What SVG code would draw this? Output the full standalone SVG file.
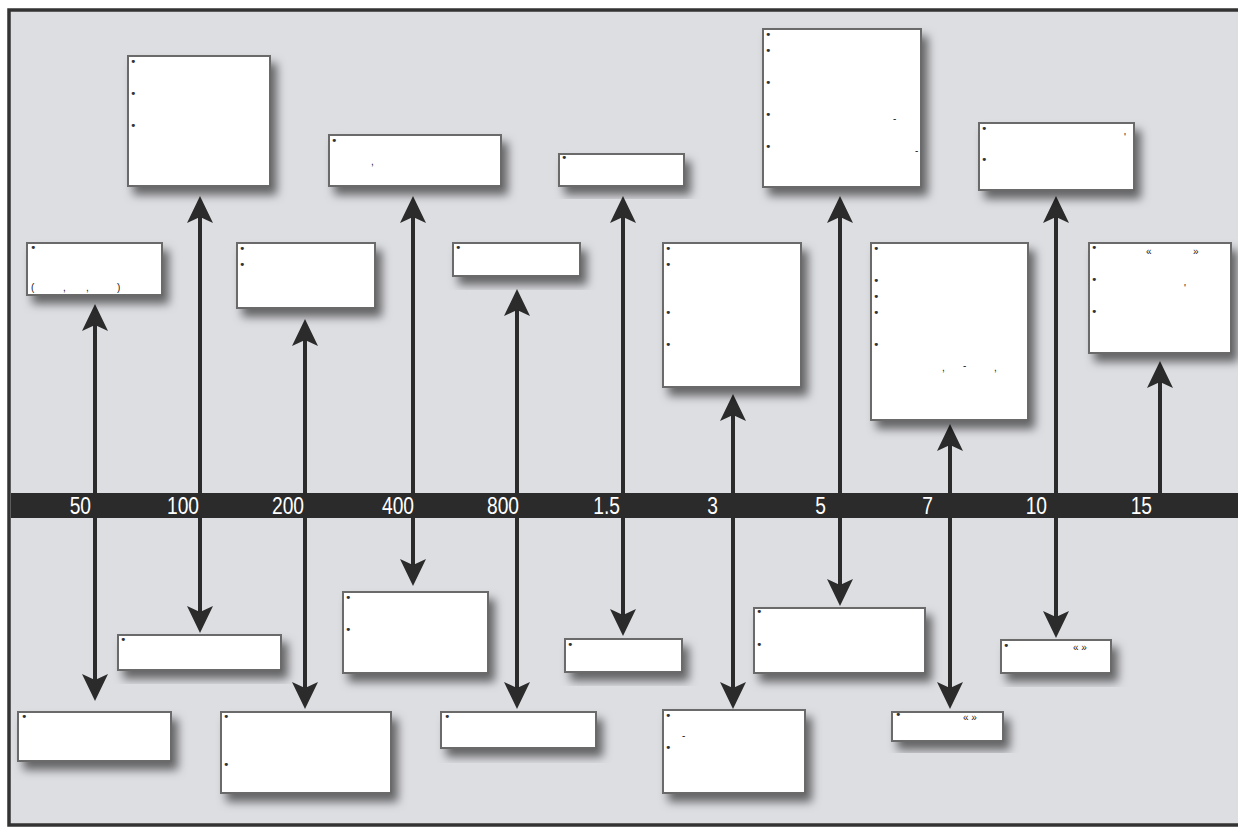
<svg xmlns="http://www.w3.org/2000/svg" width="1238" height="828" viewBox="0 0 1238 828">
<style>
.box{fill:#fff;stroke:#6a6a6a;stroke-width:2;filter:url(#sh)}
.b{font-family:"DejaVu Sans",sans-serif;font-size:11px;fill:#333}
.p{font-family:"Liberation Sans",sans-serif;font-size:10px;fill:#222}
.num{font-family:"Liberation Sans",Arial,sans-serif;font-size:24px;fill:#fff;text-anchor:end}
.arr{stroke:#2b2b2b;stroke-width:4;fill:none;marker-end:url(#ah)}
.dbl{marker-start:url(#ah)}
</style>
<defs>
<filter id="sh" x="-20%" y="-20%" width="150%" height="160%">
<feDropShadow dx="6" dy="8" stdDeviation="5" flood-color="#000" flood-opacity="0.55"/>
</filter>
<marker id="ah" markerUnits="userSpaceOnUse" viewBox="0 -14 28 28" refX="8" refY="0" markerWidth="28" markerHeight="28" orient="auto-start-reverse">
<path d="M27,0 L0,-13 L6,0 L0,13 Z" fill="#2b2b2b"/>
</marker>
</defs>
<rect x="0" y="0" width="1238" height="828" fill="#fff"/>
<rect x="9" y="10" width="1240" height="815" fill="#dddee2" stroke="#333" stroke-width="3.5"/>
<rect x="11" y="493" width="1227" height="25" fill="#2b2b2b"/>
<g id="connectors">
<line class="arr dbl" x1="95" y1="323" x2="95" y2="682"/>
<line class="arr dbl" x1="200" y1="215" x2="200" y2="614"/>
<line class="arr dbl" x1="305" y1="338" x2="305" y2="690"/>
<line class="arr dbl" x1="413" y1="215" x2="413" y2="567"/>
<line class="arr dbl" x1="517" y1="308" x2="517" y2="690"/>
<line class="arr dbl" x1="623" y1="215" x2="623" y2="617"/>
<line class="arr dbl" x1="733" y1="413" x2="733" y2="690"/>
<line class="arr dbl" x1="840" y1="215" x2="840" y2="587"/>
<line class="arr dbl" x1="950" y1="443" x2="950" y2="690"/>
<line class="arr dbl" x1="1056" y1="215" x2="1056" y2="619"/>
<line class="arr" x1="1160" y1="493" x2="1160" y2="380"/>
</g>
<g id="labels">
<text class="num" transform="translate(91,514) scale(0.8,1)">50</text>
<text class="num" transform="translate(199,514) scale(0.8,1)">100</text>
<text class="num" transform="translate(304,514) scale(0.8,1)">200</text>
<text class="num" transform="translate(414,514) scale(0.8,1)">400</text>
<text class="num" transform="translate(519,514) scale(0.8,1)">800</text>
<text class="num" transform="translate(620,514) scale(0.8,1)">1.5</text>
<text class="num" transform="translate(718,514) scale(0.8,1)">3</text>
<text class="num" transform="translate(826,514) scale(0.8,1)">5</text>
<text class="num" transform="translate(933,514) scale(0.8,1)">7</text>
<text class="num" transform="translate(1047,514) scale(0.8,1)">10</text>
<text class="num" transform="translate(1152,514) scale(0.8,1)">15</text>
</g>
<g id="n1"><rect class="box" x="128" y="56" width="142" height="130"/>
<text class="b" x="130" y="65">•</text><text class="b" x="130" y="97">•</text><text class="b" x="130" y="129">•</text></g>
<g id="n2"><rect class="box" x="27" y="243" width="135" height="52"/>
<text class="b" x="30" y="251">•</text>
<text class="p" x="31" y="291">(</text><text class="p" x="63" y="291">,</text><text class="p" x="86" y="291">,</text><text class="p" x="117" y="291">)</text></g>
<g id="n3"><rect class="box" x="237" y="243" width="138" height="65"/>
<text class="b" x="239" y="252">•</text><text class="b" x="239" y="268">•</text></g>
<g id="n4"><rect class="box" x="329" y="135" width="172" height="51"/>
<text class="b" x="331" y="144">•</text><text class="p" x="371" y="165">,</text></g>
<g id="n5"><rect class="box" x="453" y="243" width="127" height="33"/>
<text class="b" x="455" y="251">•</text></g>
<g id="n6"><rect class="box" x="559" y="154" width="125" height="32"/>
<text class="b" x="561" y="161">•</text></g>
<g id="n7"><rect class="box" x="663" y="243" width="138" height="144"/>
<text class="b" x="665" y="252">•</text><text class="b" x="665" y="268">•</text><text class="b" x="665" y="316">•</text><text class="b" x="665" y="348">•</text></g>
<g id="n8"><rect class="box" x="763" y="29" width="158" height="158"/>
<text class="b" x="765" y="38">•</text><text class="b" x="765" y="54">•</text><text class="b" x="765" y="86">•</text><text class="b" x="765" y="118">•</text><text class="b" x="765" y="150">•</text>
<text class="p" x="893" y="122">-</text><text class="p" x="915" y="154">-</text></g>
<g id="n9"><rect class="box" x="871" y="243" width="157" height="177"/>
<text class="b" x="873" y="252">•</text><text class="b" x="873" y="284">•</text><text class="b" x="873" y="300">•</text><text class="b" x="873" y="316">•</text><text class="b" x="873" y="348">•</text>
<text class="p" x="942" y="371">,</text><text class="p" x="963" y="369">-</text><text class="p" x="994" y="371">,</text></g>
<g id="n10"><rect class="box" x="979" y="123" width="155" height="67"/>
<text class="b" x="981" y="132">•</text><text class="b" x="981" y="163">•</text><text class="p" x="1124" y="141">'</text></g>
<g id="n11"><rect class="box" x="1089" y="243" width="142" height="110"/>
<text class="b" x="1091" y="251">•</text><text class="b" x="1091" y="283">•</text><text class="b" x="1091" y="315">•</text>
<text class="p" x="1146" y="255">«</text><text class="p" x="1193" y="255">»</text><text class="p" x="1184" y="292">'</text></g>
<g id="n12"><rect class="box" x="18" y="712" width="153" height="49"/>
<text class="b" x="21" y="720">•</text></g>
<g id="n13"><rect class="box" x="118" y="635" width="163" height="35"/>
<text class="b" x="120" y="643">•</text></g>
<g id="n14"><rect class="box" x="221" y="712" width="170" height="81"/>
<text class="b" x="223" y="720">•</text><text class="b" x="223" y="768">•</text></g>
<g id="n15"><rect class="box" x="343" y="592" width="145" height="81"/>
<text class="b" x="345" y="601">•</text><text class="b" x="345" y="633">•</text></g>
<g id="n16"><rect class="box" x="441" y="712" width="155" height="36"/>
<text class="b" x="444" y="720">•</text></g>
<g id="n17"><rect class="box" x="565" y="639" width="117" height="33"/>
<text class="b" x="567" y="648">•</text></g>
<g id="n18"><rect class="box" x="663" y="710" width="142" height="83"/>
<text class="b" x="665" y="719">•</text><text class="b" x="665" y="751">•</text><text class="p" x="682" y="739">-</text></g>
<g id="n19"><rect class="box" x="754" y="608" width="171" height="65"/>
<text class="b" x="756" y="615">•</text><text class="b" x="756" y="648">•</text></g>
<g id="n20"><rect class="box" x="892" y="712" width="111" height="29"/>
<text class="b" x="895" y="718">•</text><text class="p" x="963" y="721">« »</text></g>
<g id="n21"><rect class="box" x="1001" y="640" width="110" height="33"/>
<text class="b" x="1003" y="649">•</text><text class="p" x="1073" y="651">« »</text></g>
</svg>
